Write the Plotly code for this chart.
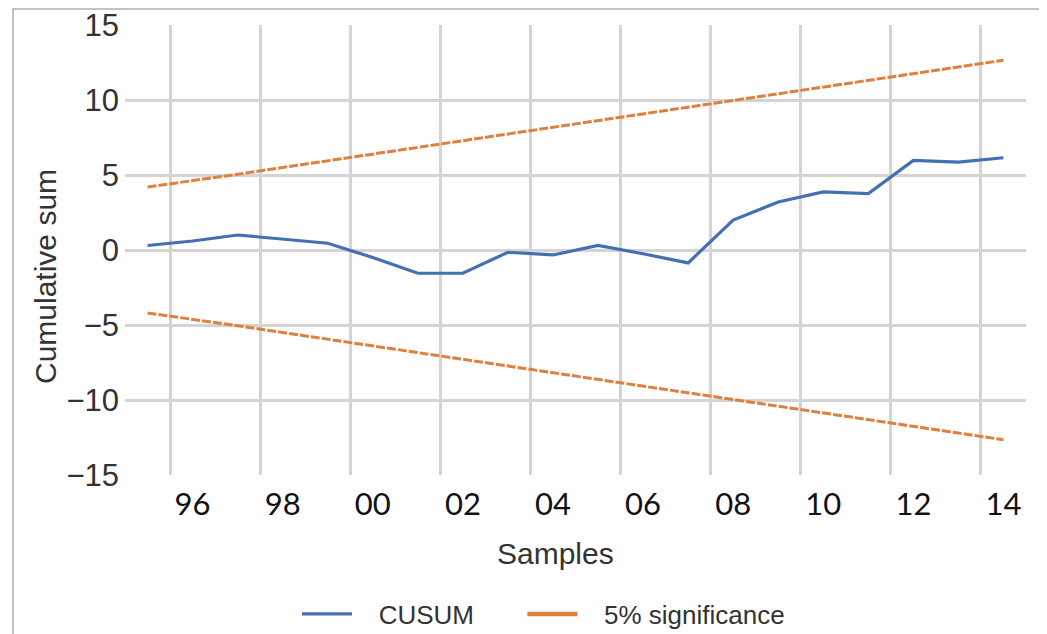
import plotly.graph_objects as go

# ---- data ----
years = [1995, 1996, 1997, 1998, 1999, 2000, 2001, 2002, 2003, 2004,
         2005, 2006, 2007, 2008, 2009, 2010, 2011, 2012, 2013, 2014]
cusum = [0.3, 0.6, 1.0, 0.7, 0.45, -0.5, -1.55, -1.55, -0.15, -0.33,
         0.3, -0.25, -0.86, 2.0, 3.2, 3.87, 3.76, 5.97, 5.86, 6.15]
upper = [4.2, 4.6, 5.05, 5.5, 5.95, 6.4, 6.85, 7.3, 7.75, 8.2,
         8.6, 9.05, 9.5, 9.95, 10.4, 10.85, 11.3, 11.75, 12.2, 12.65]
lower = [-4.2, -4.6, -5.05, -5.5, -5.95, -6.4, -6.85, -7.3, -7.75, -8.2,
         -8.6, -9.05, -9.5, -9.95, -10.4, -10.85, -11.3, -11.75, -12.2, -12.65]
xtick_vals = [1996, 1998, 2000, 2002, 2004, 2006, 2008, 2010, 2012, 2014]
xtick_text = ["96", "98", "00", "02", "04", "06", "08", "10", "12", "14"]
ytick_vals = [-15, -10, -5, 0, 5, 10, 15]

BLUE = "#4470b3"
ORANGE = "#dd8040"
GRID = "#d4d4d4"
TXT = "#333333"
NB = "\u00a0"

fig = go.Figure()
fig.add_trace(go.Scatter(x=years, y=cusum, mode="lines",
                         name=NB * 3 + "CUSUM" + NB * 6,
                         line=dict(color=BLUE, width=3.2)))
fig.add_trace(go.Scatter(x=years, y=upper, mode="lines", name="5% significance",
                         line=dict(color=ORANGE, width=3, dash="9px,2px"),
                         showlegend=False))
fig.add_trace(go.Scatter(x=years, y=lower, mode="lines", name="5% significance",
                         line=dict(color=ORANGE, width=3, dash="9px,2px"),
                         showlegend=False))
# legend entry (solid sample as in the reference)
fig.add_trace(go.Scatter(x=[None], y=[None], mode="lines",
                         name=NB * 3 + "5% significance",
                         line=dict(color=ORANGE, width=4.5)))

# page body has an 8px default margin: figure coords = screen coords - 8
OFF = 8
W, H = 1047 - OFF, 634 - OFF
L, R, T, B = 125 - OFF, 21, 25 - OFF, 159
pw, ph = W - L - R, H - T - B

def px(xs):
    return (xs - OFF - L) / pw

def py(ys):
    return (H - B - (ys - OFF)) / ph

fig.update_layout(
    width=W, height=H,
    margin=dict(l=L, r=R, t=T, b=B, autoexpand=False),
    paper_bgcolor="white", plot_bgcolor="white",
    font=dict(family="Liberation Sans, Arial, sans-serif", color=TXT, size=26),
    showlegend=True,
    legend=dict(orientation="h", x=px(297), xanchor="left",
                y=py(614), yanchor="middle",
                font=dict(size=26, color=TXT), itemwidth=50,
                bgcolor="rgba(0,0,0,0)"),
    xaxis=dict(range=[1994.5, 2014.5], tickmode="array",
               tickvals=xtick_vals, ticktext=xtick_text,
               showgrid=False, zeroline=False, showline=False, ticks="",
               automargin=False, ticklabelstandoff=8, ticklabeloverflow="allow",
               tickfont=dict(family="Lato, Carlito, sans-serif", size=31, color="#111111"),
               minor=dict(tick0=1995.5, dtick=2, showgrid=True,
                          gridcolor=GRID, gridwidth=2.5, ticks=""),
               fixedrange=True),
    yaxis=dict(range=[-15, 15], tickmode="array", tickvals=ytick_vals,
               showgrid=True, gridcolor=GRID, gridwidth=2.5,
               zeroline=False, showline=False, ticks="",
               automargin=False, ticklabeloverflow="allow",
               tickfont=dict(size=31, color=TXT), ticklabelstandoff=5,
               fixedrange=True),
    annotations=[
        dict(text="Samples", xref="paper", yref="paper", x=px(555), y=py(553),
             xanchor="center", yanchor="middle", showarrow=False,
             font=dict(size=30, color=TXT)),
        dict(text="Cumulative sum", xref="paper", yref="paper", x=px(45), y=py(277),
             xanchor="center", yanchor="middle", showarrow=False, textangle=-90,
             font=dict(size=30, color=TXT)),
    ],
    shapes=[dict(type="rect", xref="paper", yref="paper",
                 x0=px(13), x1=px(1040), y0=py(660), y1=py(9),
                 line=dict(color="#b0b0b0", width=1.5), fillcolor="rgba(0,0,0,0)",
                 layer="below")],
)

fig.write_html("out.html")
